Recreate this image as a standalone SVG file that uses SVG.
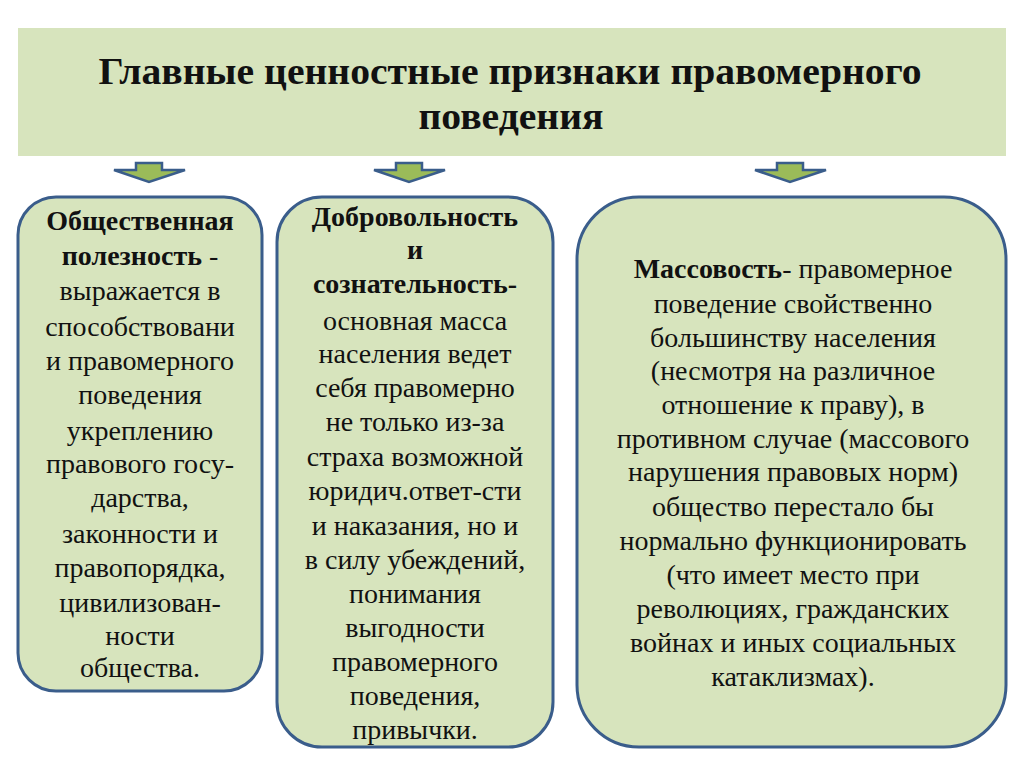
<svg xmlns="http://www.w3.org/2000/svg" width="1024" height="767" viewBox="0 0 1024 767">
<style>
.box{fill:#d7e4bd;stroke:#3a5d8b;stroke-width:3}
.t{font-size:28px;fill:#111;text-anchor:middle}
.b{font-weight:bold}
.title{font-size:37px;font-weight:bold;fill:#111;text-anchor:middle}
.arrow{fill:#9bbb59;stroke:#3a5d8b;stroke-width:2.5;stroke-linejoin:miter}
</style>
<rect width="1024" height="767" fill="#ffffff"/>
<g id="title" font-family="Liberation Serif, Times New Roman, DejaVu Serif, serif">
<rect x="18" y="28" width="988" height="128" fill="#d7e4bd"/>
<text class="title" x="510" y="84" textLength="823" lengthAdjust="spacingAndGlyphs">Главные ценностные признаки правомерного</text>
<text class="title" x="511" y="129" textLength="185" lengthAdjust="spacingAndGlyphs">поведения</text>
</g>
<g id="connectors">
<path class="arrow" d="M136,163 H162 V170 H185 L149,182 L114,170 H136 Z"/>
<path class="arrow" d="M396,163 H422 V170 H445 L409,182 L374,170 H396 Z"/>
<path class="arrow" d="M777,163 H803 V170 H826 L790,182 L755,170 H777 Z"/>
</g>
<g id="node1" font-family="Liberation Serif, Times New Roman, DejaVu Serif, serif">
<rect class="box" x="18" y="197" width="244" height="494" rx="38" ry="38"/>
<text class="t" x="140" y="230"><tspan class="b">Общественная</tspan></text>
<text class="t" x="140" y="265"><tspan class="b">полезность</tspan> -</text>
<text class="t" x="140" y="300">выражается в</text>
<text class="t" x="140" y="336">способствовани</text>
<text class="t" x="140" y="370">и правомерного</text>
<text class="t" x="140" y="404">поведения</text>
<text class="t" x="140" y="440">укреплению</text>
<text class="t" x="140" y="473">правового госу-</text>
<text class="t" x="140" y="507">дарства,</text>
<text class="t" x="140" y="543">законности и</text>
<text class="t" x="140" y="577">правопорядка,</text>
<text class="t" x="140" y="612">цивилизован-</text>
<text class="t" x="140" y="645">ности</text>
<text class="t" x="140" y="677">общества.</text>
</g>
<g id="node2" font-family="Liberation Serif, Times New Roman, DejaVu Serif, serif">
<rect class="box" x="277" y="197" width="276" height="550" rx="45" ry="45"/>
<text class="t b" x="415" y="226">Добровольность</text>
<text class="t b" x="415" y="259">и</text>
<text class="t b" x="415" y="293">сознательность-</text>
<text class="t" x="415" y="330">основная масса</text>
<text class="t" x="415" y="363">населения ведет</text>
<text class="t" x="415" y="397">себя правомерно</text>
<text class="t" x="415" y="431">не только из-за</text>
<text class="t" x="415" y="466">страха возможной</text>
<text class="t" x="415" y="500">юридич.ответ-сти</text>
<text class="t" x="415" y="535">и наказания, но и</text>
<text class="t" x="415" y="569">в силу убеждений,</text>
<text class="t" x="415" y="603">понимания</text>
<text class="t" x="415" y="637">выгодности</text>
<text class="t" x="415" y="671">правомерного</text>
<text class="t" x="415" y="705">поведения,</text>
<text class="t" x="415" y="739">привычки.</text>
</g>
<g id="node3" font-family="Liberation Serif, Times New Roman, DejaVu Serif, serif">
<rect class="box" x="577" y="197" width="429" height="550" rx="62" ry="62"/>
<text class="t" x="793" y="278"><tspan class="b">Массовость</tspan>- правомерное</text>
<text class="t" x="793" y="313">поведение свойственно</text>
<text class="t" x="793" y="347">большинству населения</text>
<text class="t" x="793" y="380">(несмотря на различное</text>
<text class="t" x="793" y="414">отношение к праву), в</text>
<text class="t" x="793" y="448">противном случае (массового</text>
<text class="t" x="793" y="481">нарушения правовых норм)</text>
<text class="t" x="793" y="516">общество перестало бы</text>
<text class="t" x="793" y="550">нормально функционировать</text>
<text class="t" x="793" y="584">(что имеет место при</text>
<text class="t" x="793" y="618">революциях, гражданских</text>
<text class="t" x="793" y="652">войнах и иных социальных</text>
<text class="t" x="793" y="686">катаклизмах).</text>
</g>
</svg>
